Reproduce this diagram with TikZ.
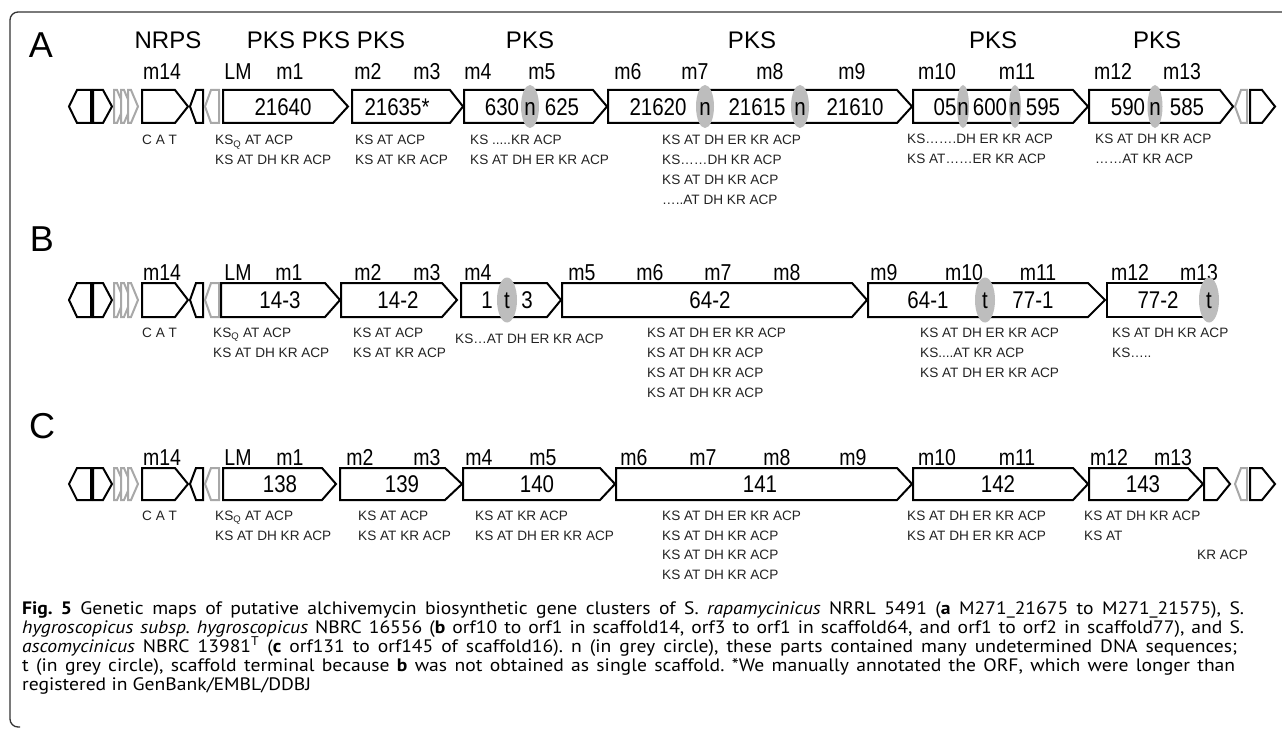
\documentclass[tikz,border=0pt]{standalone}
\usepackage{fontspec}
\setmainfont{Liberation Sans}
\newfontfamily\capfont[FakeStretch=1.09]{PT Sans}
\usepackage{graphicx}
\definecolor{gfill}{HTML}{BDBDBD}
\definecolor{gline}{HTML}{A8A8A8}
\definecolor{frm}{HTML}{333333}
\definecolor{dtext}{HTML}{222222}
\newcounter{nd}
\newcommand\T[4][]{\stepcounter{nd}\node[#1] (t\arabic{nd}) at (#2,#3) {#4};}
\newcommand\vs[1]{\scalebox{1}[1.18]{#1}}
\newcommand\genR[6]{\draw[#1] (#2,#5) -- (#3,#5) -- (#4,{(#5+#6)/2}) -- (#3,#6) -- (#2,#6) -- cycle;}
\newcommand\genL[6]{\draw[#1] (#4,#5) -- (#3,#5) -- (#2,{(#5+#6)/2}) -- (#3,#6) -- (#4,#6) -- cycle;}
\newcommand\gapE[4]{\fill[gfill] (#1,#2) ellipse [x radius=#3, y radius=#4];}
\newcommand\leftpart[2]{%
  \genL{blk}{69}{77}{91}{#1}{#2}
  \genR{blk}{93}{103}{112}{#1}{#2}
  \genR{gry}{114}{117}{124}{#1}{#2}
  \genR{gry}{121}{124}{131}{#1}{#2}
  \genR{gry}{128}{131}{138}{#1}{#2}
  \genR{blk}{142}{175}{188}{#1}{#2}
  \genL{blk}{190}{196}{203}{#1}{#2}
  \genL{gry}{205}{211}{219}{#1}{#2}
}
\tikzset{
  blk/.style={draw=black, line width=2pt, fill=white, line join=miter},
  gry/.style={draw=gline, line width=2pt, fill=white, line join=miter},
  rowlbl/.style={font=\fontsize{36}{40}\selectfont, inner sep=0pt, text height=25.8pt, text depth=0pt},
  pks/.style={font=\fontsize{24}{26}\selectfont, inner sep=0pt, text height=17.2pt, text depth=0pt},
  lbl/.style={font=\fontsize{19.5}{21}\selectfont, inner sep=0pt, text height=16pt, text depth=0pt},
  num/.style={font=\fontsize{20.5}{22}\selectfont, inner sep=0pt, text height=17.3pt, text depth=0pt},
  dom/.style={font=\fontsize{13.6}{16}\selectfont, inner sep=0pt, anchor=base west, text=dtext},
  captxt/.style={font=\capfont\fontsize{18}{20}\selectfont\frenchspacing, inner sep=0pt, anchor=base west},
}
\begin{document}
\begin{tikzpicture}[x=1pt,y=-1pt]
\useasboundingbox (0,0) rectangle (1282,730);
% frame
\draw[frm, line width=1.3pt, rounded corners=8pt] (1282,12) -- (10,12) -- (10,727) -- (20,727);

% ================= Row A =================
\T[rowlbl]{41}{45}{A}
\T[pks]{168}{40}{NRPS}
\T[pks]{271}{40}{PKS}
\T[pks]{326}{40}{PKS}
\T[pks]{381}{40}{PKS}
\T[pks]{530}{40}{PKS}
\T[pks]{752}{40}{PKS}
\T[pks]{993}{40}{PKS}
\T[pks]{1157}{40}{PKS}
\foreach \x/\t in {162/m14, 238/LM, 290/m1, 368/m2, 427/m3, 478/m4, 542/m5, 628/m6, 695/m7, 770/m8, 852/m9, 937/m10, 1017/m11, 1113/m12, 1182/m13}
  {\T[lbl]{\x}{72}{\vs{\t}}}
\leftpart{90}{123}
\genR{blk}{223}{333}{348}{90}{123}
\genR{blk}{352}{450}{463}{90}{123}
\genR{blk}{464}{593}{607}{90}{123}
\genR{blk}{608}{897}{912}{90}{123}
\genR{blk}{913}{1073}{1088}{90}{123}
\genR{blk}{1089}{1220}{1233}{90}{123}
\genL{gry}{1235}{1241}{1247}{90}{123}
\genR{blk}{1250}{1262}{1275}{90}{123}
\gapE{530}{106.5}{9}{21.5}
\gapE{705}{106.5}{9}{21.5}
\gapE{800}{106.5}{9}{21.5}
\gapE{963}{106.5}{6}{21.5}
\gapE{1015}{106.5}{6}{21.5}
\gapE{1155}{106.5}{7.5}{21.5}
\T[num]{283}{107}{\vs{21640}}
\T[num]{397}{107}{\vs{21635*}}
\T[num]{502}{107}{\vs{630}}
\T[num]{530}{107}{\vs{n}}
\T[num]{562}{107}{\vs{625}}
\T[num]{658}{107}{\vs{21620}}
\T[num]{705}{107}{\vs{n}}
\T[num]{757}{107}{\vs{21615}}
\T[num]{800}{107}{\vs{n}}
\T[num]{855}{107}{\vs{21610}}
\T[num]{945}{107}{\vs{05}}
\T[num]{963}{107}{\vs{n}}
\T[num]{990}{107}{\vs{600}}
\T[num]{1015}{107}{\vs{n}}
\T[num]{1043}{107}{\vs{595}}
\T[num]{1128}{107}{\vs{590}}
\T[num]{1155}{107}{\vs{n}}
\T[num]{1187}{107}{\vs{585}}
\T[dom]{142}{145}{C A T}
\T[dom]{215}{145}{KS\textsubscript{Q} AT ACP}
\T[dom]{215}{165}{KS AT DH KR ACP}
\T[dom]{355}{145}{KS AT ACP}
\T[dom]{355}{165}{KS AT KR ACP}
\T[dom]{470}{145}{KS .....KR ACP}
\T[dom]{470}{165}{KS AT DH ER KR ACP}
\T[dom]{662}{145}{KS AT DH ER KR ACP}
\T[dom]{662}{165}{KS……DH KR ACP}
\T[dom]{662}{185}{KS AT DH KR ACP}
\T[dom]{662}{205}{…..AT DH KR ACP}
\T[dom]{907}{144}{KS…….DH ER KR ACP}
\T[dom]{907}{164}{KS AT……ER KR ACP}
\T[dom]{1095}{144}{KS AT DH KR ACP}
\T[dom]{1095}{164}{……AT KR ACP}

% ================= Row B =================
\T[rowlbl]{42}{239}{B}
\foreach \x/\t in {162/m14, 238/LM, 289/m1, 368/m2, 427/m3, 478/m4, 582/m5, 650/m6, 718/m7, 787/m8, 884/m9, 964/m10, 1038/m11, 1130/m12, 1199/m13}
  {\T[lbl]{\x}{272}{\vs{\t}}}
\leftpart{283}{317}
\genR{blk}{221}{325}{340}{283}{317}
\genR{blk}{341}{442}{457}{283}{317}
\genR{blk}{461}{547}{561}{283}{317}
\genR{blk}{562}{852}{867}{283}{317}
\genR{blk}{868}{1088}{1105}{283}{317}
\draw[blk] (1209,283) -- (1107,283) -- (1107,317) -- (1209,317);
\gapE{507}{300}{10}{22.5}
\gapE{985}{300}{10}{22.5}
\gapE{1209}{300}{10}{22.5}
\T[num]{280}{300}{\vs{14-3}}
\T[num]{398}{300}{\vs{14-2}}
\T[num]{487}{300}{\vs{1}}
\T[num]{507}{300}{\vs{t}}
\T[num]{527}{300}{\vs{3}}
\T[num]{710}{300}{\vs{64-2}}
\T[num]{928}{300}{\vs{64-1}}
\T[num]{985}{300}{\vs{t}}
\T[num]{1033}{300}{\vs{77-1}}
\T[num]{1158}{300}{\vs{77-2}}
\T[num]{1209}{300}{\vs{t}}
\T[dom]{142}{337}{C A T}
\T[dom]{213}{337}{KS\textsubscript{Q} AT ACP}
\T[dom]{213}{357}{KS AT DH KR ACP}
\T[dom]{353}{337}{KS AT ACP}
\T[dom]{353}{357}{KS AT KR ACP}
\T[dom]{455}{343}{KS…AT DH ER KR ACP}
\T[dom]{647}{337}{KS AT DH ER KR ACP}
\T[dom]{647}{357}{KS AT DH KR ACP}
\T[dom]{647}{377}{KS AT DH KR ACP}
\T[dom]{647}{397}{KS AT DH KR ACP}
\T[dom]{920}{337}{KS AT DH ER KR ACP}
\T[dom]{920}{357}{KS....AT KR ACP}
\T[dom]{920}{377}{KS AT DH ER KR ACP}
\T[dom]{1112}{337}{KS AT DH KR ACP}
\T[dom]{1112}{357}{KS…..}

% ================= Row C =================
\T[rowlbl]{42}{426}{C}
\foreach \x/\t in {162/m14, 238/LM, 290/m1, 360/m2, 427/m3, 479/m4, 543/m5, 634/m6, 703/m7, 777/m8, 853/m9, 937/m10, 1017/m11, 1109/m12, 1173/m13}
  {\T[lbl]{\x}{457}{\vs{\t}}}
\leftpart{468}{500}
\genR{blk}{223}{322}{336}{468}{500}
\genR{blk}{340}{445}{462}{468}{500}
\genR{blk}{463}{600}{615}{468}{500}
\genR{blk}{616}{897}{912}{468}{500}
\genR{blk}{913}{1073}{1088}{468}{500}
\genR{blk}{1089}{1188}{1203}{468}{500}
\genR{blk}{1204}{1217}{1230}{468}{500}
\genL{gry}{1235}{1241}{1247}{468}{500}
\genR{blk}{1250}{1262}{1275}{468}{500}
\T[num]{280}{484}{\vs{138}}
\T[num]{402}{484}{\vs{139}}
\T[num]{537}{484}{\vs{140}}
\T[num]{760}{484}{\vs{141}}
\T[num]{998}{484}{\vs{142}}
\T[num]{1143}{484}{\vs{143}}
\T[dom]{142}{520}{C A T}
\T[dom]{215}{520}{KS\textsubscript{Q} AT ACP}
\T[dom]{215}{540}{KS AT DH KR ACP}
\T[dom]{358}{520}{KS AT ACP}
\T[dom]{358}{540}{KS AT KR ACP}
\T[dom]{475}{520}{KS AT KR ACP}
\T[dom]{475}{540}{KS AT DH ER KR ACP}
\T[dom]{662}{520}{KS AT DH ER KR ACP}
\T[dom]{662}{540}{KS AT DH KR ACP}
\T[dom]{662}{559.5}{KS AT DH KR ACP}
\T[dom]{662}{579}{KS AT DH KR ACP}
\T[dom]{907}{520}{KS AT DH ER KR ACP}
\T[dom]{907}{540}{KS AT DH ER KR ACP}
\T[dom]{1084}{520}{KS AT DH KR ACP}
\T[dom]{1084}{540}{KS AT}
\T[dom]{1197}{559.5}{KR ACP}

% ================= Caption =================
\T[captxt]{22}{614}{\makebox[1222pt][s]{\textbf{Fig. 5} Genetic maps of putative alchivemycin biosynthetic gene clusters of S. \textit{rapamycinicus} NRRL 5491 (\textbf{a} M271\_21675 to M271\_21575), S.}}
\T[captxt]{22}{633}{\makebox[1222pt][s]{\textit{hygroscopicus subsp. hygroscopicus} NBRC 16556 (\textbf{b} orf10 to orf1 in scaffold14, orf3 to orf1 in scaffold64, and orf1 to orf2 in scaffold77), and S.}}
\T[captxt]{22}{652}{\makebox[1215pt][s]{\textit{ascomycinicus} NBRC 13981\textsuperscript{T} (\textbf{c} orf131 to orf145 of scaffold16). n (in grey circle), these parts contained many undetermined DNA sequences;}}
\T[captxt]{22}{671}{\makebox[1213pt][s]{t (in grey circle), scaffold terminal because \textbf{b} was not obtained as single scaffold. *We manually annotated the ORF, which were longer than}}
\T[captxt]{22}{690}{registered in GenBank/EMBL/DDBJ}
\end{tikzpicture}
\end{document}
